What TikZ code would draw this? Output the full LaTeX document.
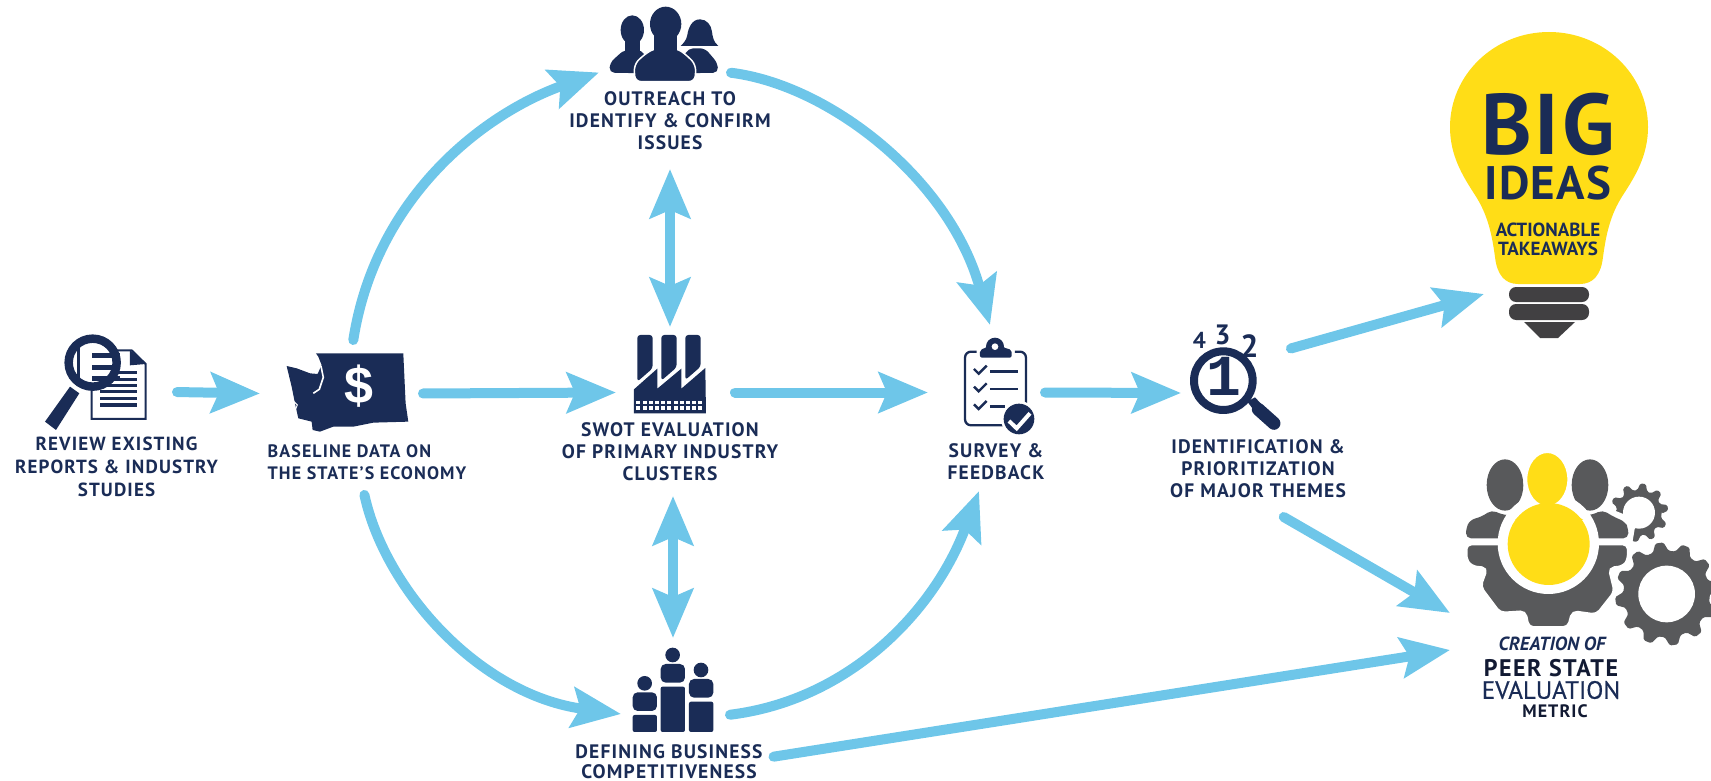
\documentclass[tikz,border=0pt]{standalone}
\usepackage{fontspec}
\setmainfont{PT Sans}
\newfontfamily\monofont{Liberation Mono}
\newfontfamily\labfont[LetterSpace=6]{PT Sans}
\newfontfamily\bigfont[LetterSpace=3]{PT Sans}
\newfontfamily\midfont[FakeBold=0.5]{PT Sans}
\newfontfamily\dollarfont{Liberation Sans}
\usetikzlibrary{arrows.meta}
\definecolor{navy}{HTML}{1A2C56}
\definecolor{skyblue}{HTML}{6EC6E9}
\definecolor{bulbyellow}{HTML}{FFDD17}
\definecolor{geargray}{HTML}{58595B}
\definecolor{bardark}{HTML}{414042}
\definecolor{inkdark}{HTML}{121A33}
\newcommand{\gearwheel}[6]{% cx, cy, outer, root, hole, teeth
  \begin{scope}[shift={(#1,#2)}]
    \pgfmathsetmacro{\gs}{360/#6}
    \fill[geargray, rounded corners=1.5pt] (0:#4)
      \foreach \i in {1,...,#6} {
        -- ({(\i-0.62)*\gs}:#4) -- ({(\i-0.42)*\gs}:#3) -- ({(\i-0.12)*\gs}:#3) -- ({(\i+0.08)*\gs}:#4)
      } -- cycle;
    \fill[white] (0,0) circle[radius=#5];
  \end{scope}}
\tikzset{
  zoomed/.style 2 args={shift={(#1,#2)}, x=0.3333pt, y=-0.3333pt},
  spot/.style={inner sep=0pt, outer sep=0pt},
  lab/.style={inner sep=0pt, outer sep=0pt, align=center, text=navy, font=\fontsize{19.5}{22}\selectfont\labfont\bfseries},
  flow/.style={line width=10pt, draw=skyblue, line cap=round, shorten <=2pt, -{Stealth[length=49pt, width=40pt, inset=8pt]}},
  both/.style={line width=10pt, draw=skyblue, {Stealth[length=49pt, width=40pt, inset=8pt]}-{Stealth[length=49pt, width=40pt, inset=8pt]}},
}
\begin{document}
\begin{tikzpicture}[x=1pt, y=-1pt]
  \useasboundingbox (0,0) rectangle (1711,781);
  % anchors for the connectors
  \node[spot, minimum width=110pt, minimum height=60pt] (review) at (120,392) {};
  \node[spot, minimum width=161pt, minimum height=103pt] (baseline) at (340.5,393.5) {};
  \node[spot, minimum width=130pt, minimum height=130pt] (outreach) at (664,72.5) {};
  \node[spot, minimum width=108pt, minimum height=131pt] (swot) at (670,392.5) {};
  \node[spot, minimum width=115pt, minimum height=135pt] (survey) at (985.5,392.5) {};
  \node[spot, minimum width=108pt, minimum height=88pt] (themes) at (1235,393) {};
  \node[spot, minimum width=104pt, minimum height=140pt] (defining) at (673,708) {};
  \node[spot, minimum width=130pt, minimum height=262pt] (bulb) at (1549,163) {};
  \node[spot, minimum width=210pt, minimum height=150pt] (gear) at (1555,613) {};
  % labels
  \node[lab, font=\fontsize{19}{23}\selectfont\labfont\bfseries] (reviewtxt) at (116.5,467) {REVIEW EXISTING\\REPORTS \& INDUSTRY\\STUDIES};
  \node[lab, align=left, minimum height=61pt, font=\fontsize{18}{22}\selectfont\labfont\bfseries] (baselinetxt) at (367,462.5) {BASELINE DATA ON\\THE STATE’S ECONOMY};
  \node[lab, minimum height=96pt] (outreachtxt) at (670,121) {OUTREACH TO\\IDENTIFY \& CONFIRM\\ISSUES};
  \node[lab, minimum height=88pt] (swottxt) at (670,452) {SWOT EVALUATION\\OF PRIMARY INDUSTRY\\CLUSTERS};
  \node[lab, minimum height=58pt] (surveytxt) at (996,462) {SURVEY \&\\FEEDBACK};
  \node[lab, minimum height=94pt] (themestxt) at (1258,469) {IDENTIFICATION \&\\PRIORITIZATION\\OF MAJOR THEMES};
  \node[lab, font=\fontsize{19.5}{20}\selectfont\labfont\bfseries] (definingtxt) at (669,762) {DEFINING BUSINESS\\COMPETITIVENESS};
  % review icon
  \begin{scope}[zoomed={20}{290}]
    \draw[navy, line width=2pt, fill=white] (215,181) -- (335,181) -- (377,222) -- (377,387) -- (215,387) -- cycle;
    \fill[navy] (330,180) -- (378,222) -- (330,226) -- cycle;
    \foreach \y in {248,268,286,305,325,345}
      \fill[navy] (240,\y-5) rectangle (352,\y+5);
    \draw[navy, line width=8.5pt, fill=white] (218,218) circle[radius=72];
    \fill[navy] (172,155) rectangle (180,282);
    \foreach \y in {197,232,265}
      \fill[navy] (215,\y-8) rectangle (300,\y+8);
    \fill[navy] (75,395) -- (108,420) -- (178,310) -- (150,290) -- cycle;
  \end{scope}
  % baseline icon
  \begin{scope}[zoomed={20}{290}]
    \fill[navy] (888,190) -- (1150,190) -- (1157,340) -- (1165,395) -- (1060,398) -- (1000,410) -- (940,410) -- (900,425) -- (878,420) -- (875,395) -- (835,385) -- (825,340) -- (815,290) -- (800,228) -- (830,235) -- (870,250) -- (893,252) -- (905,225) -- (895,200) -- cycle;
    \draw[white, line width=1.6pt] (903,228) -- (910,262) -- (898,298) -- (880,310);
    \draw[white, line width=1pt] (822,335) -- (832,345) -- (826,360);
    \node[text=white, font=\fontsize{52}{52}\selectfont\dollarfont\bfseries] (dollar) at (1018,288) {\$};
  \end{scope}
  % outreach icon
  \begin{scope}[zoomed={500}{0}]
    \fill[navy] (397,90) ellipse[x radius=35, y radius=44];
    \fill[navy] (375,115) rectangle (420,165);
    \fill[navy, rounded corners=5pt] (328,218) -- (330,188) -- (372,150) -- (425,150) -- (450,190) -- (440,220) -- cycle;
    \fill[navy] (600,58) .. controls (575,58) and (565,85) .. (562,105) .. controls (560,120) and (550,130) .. (542,138) -- (655,138) .. controls (640,125) and (638,110) .. (636,95) .. controls (634,75) and (620,58) .. (600,58) -- cycle;
    \fill[navy, rounded corners=5pt] (655,218) -- (652,188) -- (615,145) -- (565,145) -- (540,190) -- (550,220) -- cycle;
    \draw[white, line width=1.5pt, fill=navy, rounded corners=6pt] (405,245) -- (402,195) -- (425,170) -- (462,145) -- (532,145) -- (565,170) -- (588,195) -- (585,245) -- cycle;
    \fill[navy] (462,100) rectangle (532,165);
    \fill[navy] (497,72) ellipse[x radius=47, y radius=52];
  \end{scope}
  % swot icon
  \begin{scope}[zoomed={520}{290}]
    \foreach \x/\h in {352/275, 424/272, 496/270}
      \fill[navy, rounded corners=3pt] (\x,\h) -- (\x,135) -- (\x+46,135) -- (\x+46,\h-40) -- cycle;
    \fill[navy] (342,298) -- (412,236) -- (412,296) -- (484,236) -- (484,296) -- (556,234) -- (558,370) -- (342,370) -- cycle;
    \foreach \x in {0,...,10}
      \foreach \y in {338,355}
        \fill[white] (349+\x*18.6,\y-5.5) rectangle +(12,11);
  \end{scope}
  % survey icon
  \begin{scope}[zoomed={860}{290}]
    \draw[navy, line width=2.3pt, rounded corners=6pt] (350,185) -- (315,185) -- (315,406) -- (498,406) -- (498,185) -- (465,185);
    \fill[navy, rounded corners=2pt] (360,203) -- (360,180) -- (380,172) -- (405,148) -- (430,172) -- (455,180) -- (455,203) -- cycle;
    \fill[navy] (405,170) circle[radius=27];
    \fill[white] (405,170) circle[radius=10];
    \foreach \y/\e in {244/475, 297/475, 350/435} {
      \draw[navy, line width=2.4pt] (342,\y-7) -- (356,\y+7) -- (380,\y-17);
      \draw[navy, line width=2.8pt] (390,\y) -- (\e,\y);
    }
    \fill[white] (477,387) circle[radius=54];
    \fill[navy] (477,387) circle[radius=46];
    \draw[white, line width=4pt] (447,393) -- (470,415) -- (510,370);
  \end{scope}
  % themes icon
  \begin{scope}[zoomed={1160}{310}]
    \draw[navy, line width=8pt] (190,212) circle[radius=88];
    \draw[navy, line width=13pt, line cap=round] (295,298) -- (342,340);
    \fill[navy] (262,275) -- (285,262) -- (330,310) -- (300,325) -- cycle;
    \node[text=navy, font=\fontsize{23}{23}\selectfont\bfseries] (rankfour) at (118,92) {4};
    \node[text=navy, font=\fontsize{28}{28}\selectfont\bfseries] (rankthree) at (188,75) {3};
    \node[text=navy, font=\fontsize{32}{32}\selectfont\bfseries] (ranktwo) at (268,108) {2};
    \node[text=navy, font=\fontsize{58}{58}\selectfont\monofont\bfseries] (rankone) at (193,200) {1};
  \end{scope}
  % defining icon
  \begin{scope}[zoomed={510}{580}]
    \foreach \x/\t in {368/405, 452/320, 537/365} {
      \fill[navy, rounded corners=2pt] (\x,\t) rectangle (\x+73,456);
      \fill[navy, rounded corners=5pt] (\x,\t-12) -- (\x,\t-68) -- (\x+73,\t-68) -- (\x+73,\t-12) -- cycle;
      \fill[navy] (\x+36,\t-95) circle[radius=22];
    }
  \end{scope}
  % bulb
  \fill[bulbyellow] (1549,32) .. controls (1494,32) and (1450,75) .. (1450,127)
    .. controls (1450,155) and (1462,175) .. (1475,195)
    .. controls (1488,215) and (1492,235) .. (1495,257)
    .. controls (1497,275) and (1505,284) .. (1518,284) -- (1580,284)
    .. controls (1593,284) and (1601,275) .. (1603,257)
    .. controls (1606,235) and (1610,215) .. (1623,195)
    .. controls (1636,175) and (1648,155) .. (1648,127)
    .. controls (1648,75) and (1604,32) .. (1549,32) -- cycle;
  \fill[bardark, rounded corners=7pt] (1509,287) rectangle (1589,302);
  \fill[bardark, rounded corners=7pt] (1509,304) rectangle (1589,320);
  \fill[bardark] (1524,322) -- (1575,322) -- (1558,338) -- (1540,338) -- cycle;
  \node[spot, text=navy, text height=60pt, text depth=0pt, font=\fontsize{86}{86}\selectfont\bigfont\bfseries] (bigtxt) at (1548,125) {BIG};
  \node[spot, text=navy, text height=33pt, text depth=0pt, font=\fontsize{47}{47}\selectfont\bigfont\bfseries] (ideastxt) at (1548,183) {IDEAS};
  \node[spot, text=navy, font=\fontsize{19}{19}\selectfont\bfseries] (actiontxt) at (1548,230) {ACTIONABLE};
  \node[spot, text=navy, font=\fontsize{19}{19}\selectfont\bfseries] (takeawaystxt) at (1548,249) {TAKEAWAYS};
  % gears and people
  \begin{scope}[zoomed={1450}{440}]
    \gearwheel{567}{218}{88}{68}{48}{10}
    \fill[white] (465,200) -- (520,222) -- (555,262) -- (545,320) -- (470,320) -- cycle;
    \gearwheel{650}{462}{155}{130}{85}{12}
    \draw[white, line width=3pt, fill=geargray, rounded corners=5pt] (48,312) -- (48,360) -- (65,380) -- (110,385) -- (90,440) -- (150,520) -- (225,515) -- (235,563) -- (355,563) -- (368,515) -- (440,525) -- (495,455) -- (478,385) -- (520,380) -- (535,360) -- (535,312) -- cycle;
    \fill[geargray, rounded corners=5pt] (48,295) -- (48,265) -- (60,240) -- (95,230) -- (125,210) -- (160,225) -- (425,225) -- (458,210) -- (490,230) -- (525,245) -- (535,265) -- (535,295) -- cycle;
    \fill[geargray] (165,135) ellipse[x radius=55, y radius=77];
    \fill[geargray] (420,135) ellipse[x radius=55, y radius=77];
    \fill[white] (295,310) circle[radius=152];
    \draw[white, line width=4pt, fill=bulbyellow] (292,118) ellipse[x radius=66, y radius=85];
    \fill[bulbyellow] (296,312) circle[radius=123];
    \fill[bulbyellow] (195,240) -- (240,203) -- (265,222) -- (320,222) -- (345,203) -- (400,240) -- cycle;
  \end{scope}
  \node[spot, text=navy, font=\fontsize{19}{19}\selectfont\itshape\bfseries] (creationtxt) at (1552,644) {CREATION OF};
  \node[spot, text=inkdark, font=\fontsize{24}{24}\selectfont\labfont\bfseries] (peertxt) at (1551,668) {PEER STATE};
  \node[spot, text=navy, font=\fontsize{25}{25}\selectfont\midfont] (evaluationtxt) at (1551,690) {EVALUATION};
  \node[spot, text=inkdark, font=\fontsize{18}{18}\selectfont\labfont\bfseries] (metrictxt) at (1555,711) {METRIC};
  % connectors
  \draw[flow] (review.east) -- (baseline.west);
  \draw[flow] (baseline.east) -- (swot.west);
  \draw[flow] ([xshift=9pt]swot.east) -- (survey.west);
  \draw[flow] (survey.east) -- (themes.west);
  \draw[flow] (themes.north east) -- (bulb.south west);
  \draw[flow] ([xshift=24pt]themestxt.south) -- (gear.west);
  \draw[flow] ([xshift=9pt,yshift=5pt]definingtxt.east) -- ([yshift=-37pt]gear.west);
  \draw[both] (outreachtxt.south) -- (swot.north);
  \draw[both] ([xshift=3pt]swottxt.south) -- (defining.north);
  \draw[flow] ([xshift=12.5pt]baseline.north) .. controls (375,200) and (480,115) .. (outreach.west);
  \draw[flow] (outreach.east) .. controls (830,85) and (950,180) .. ([xshift=4.5pt]survey.north);
  \draw[flow] ([xshift=-3pt]baselinetxt.south) .. controls (385,590) and (480,695) .. ([yshift=-6pt]defining.west);
  \draw[flow] ([xshift=3pt,yshift=-7pt]defining.east) .. controls (850,700) and (935,610) .. ([xshift=-17pt]surveytxt.south);
\end{tikzpicture}
\end{document}
